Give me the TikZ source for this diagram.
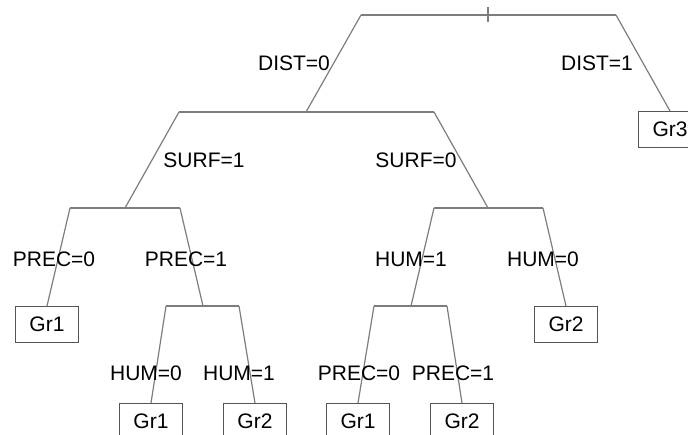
\documentclass[tikz,border=0pt]{standalone}
\usepackage{fontspec}
\setmainfont{Liberation Sans}
\definecolor{edgegray}{RGB}{125,125,125}
\definecolor{boxgray}{RGB}{85,85,85}
\tikzset{
  edge/.style={draw=edgegray, line width=1.2pt},
  leaf/.style={draw=boxgray, line width=1.1pt, minimum width=63pt, minimum height=36pt, inner sep=0pt, anchor=north, font=\fontsize{21}{24}\selectfont},
  lab/.style={inner sep=0pt, anchor=base, font=\fontsize{21}{24}\selectfont}
}
\begin{document}
\begin{tikzpicture}[x=1pt,y=-1pt]
\useasboundingbox (0,0) rectangle (688,434);
\clip (0,0) rectangle (688,434);
% split points
\coordinate (rL) at (361,15);
\coordinate (rR) at (616,15);
\coordinate (tickT) at (488,7);
\coordinate (tickB) at (488,22);
\coordinate (n1) at (306,112);
\coordinate (n1L) at (179,112);
\coordinate (n1R) at (434,112);
\coordinate (n2) at (125,208);
\coordinate (n2L) at (70,208);
\coordinate (n2R) at (180,208);
\coordinate (n3) at (203,306);
\coordinate (n3L) at (166,306);
\coordinate (n3R) at (239,306);
\coordinate (n4) at (488,208);
\coordinate (n4L) at (434,208);
\coordinate (n4R) at (543,208);
\coordinate (n5) at (411,306);
\coordinate (n5L) at (374,306);
\coordinate (n5R) at (447,306);
% leaves
\node[leaf] (g3) at (670,111) {Gr3};
\node[leaf] (l1) at (47,306) {Gr1};
\node[leaf] (l2) at (151,403) {Gr1};
\node[leaf] (l3) at (255,403) {Gr2};
\node[leaf] (l4) at (566,306) {Gr2};
\node[leaf] (l5) at (358,403) {Gr1};
\node[leaf] (l6) at (462,403) {Gr2};
% bars and branches
\draw[edge] (rL) -- (rR);
\draw[edge] (tickT) -- (tickB);
\draw[edge] (rL) -- (n1);
\draw[edge] (rR) -- (g3.north);
\draw[edge] (n1L) -- (n1R);
\draw[edge] (n1L) -- (n2);
\draw[edge] (n1R) -- (n4);
\draw[edge] (n2L) -- (n2R);
\draw[edge] (n2L) -- (l1.north);
\draw[edge] (n2R) -- (n3);
\draw[edge] (n3L) -- (n3R);
\draw[edge] (n3L) -- (l2.north);
\draw[edge] (n3R) -- (l3.north);
\draw[edge] (n4L) -- (n4R);
\draw[edge] (n4L) -- (n5);
\draw[edge] (n4R) -- (l4.north);
\draw[edge] (n5L) -- (n5R);
\draw[edge] (n5L) -- (l5.north);
\draw[edge] (n5R) -- (l6.north);
% labels
\node[lab] (d0) at (294,70) {DIST=0};
\node[lab] (d1) at (597,70) {DIST=1};
\node[lab] (s1) at (204,167.5) {SURF=1};
\node[lab] (s0) at (416,167.5) {SURF=0};
\node[lab] (p0a) at (54,266.5) {PREC=0};
\node[lab] (p1a) at (186,266.5) {PREC=1};
\node[lab] (h1a) at (411,266.5) {HUM=1};
\node[lab] (h0a) at (543,266.5) {HUM=0};
\node[lab] (h0b) at (146,380.5) {HUM=0};
\node[lab] (h1b) at (239,380.5) {HUM=1};
\node[lab] (p0b) at (359,380.5) {PREC=0};
\node[lab] (p1b) at (453,380.5) {PREC=1};
\end{tikzpicture}
\end{document}
